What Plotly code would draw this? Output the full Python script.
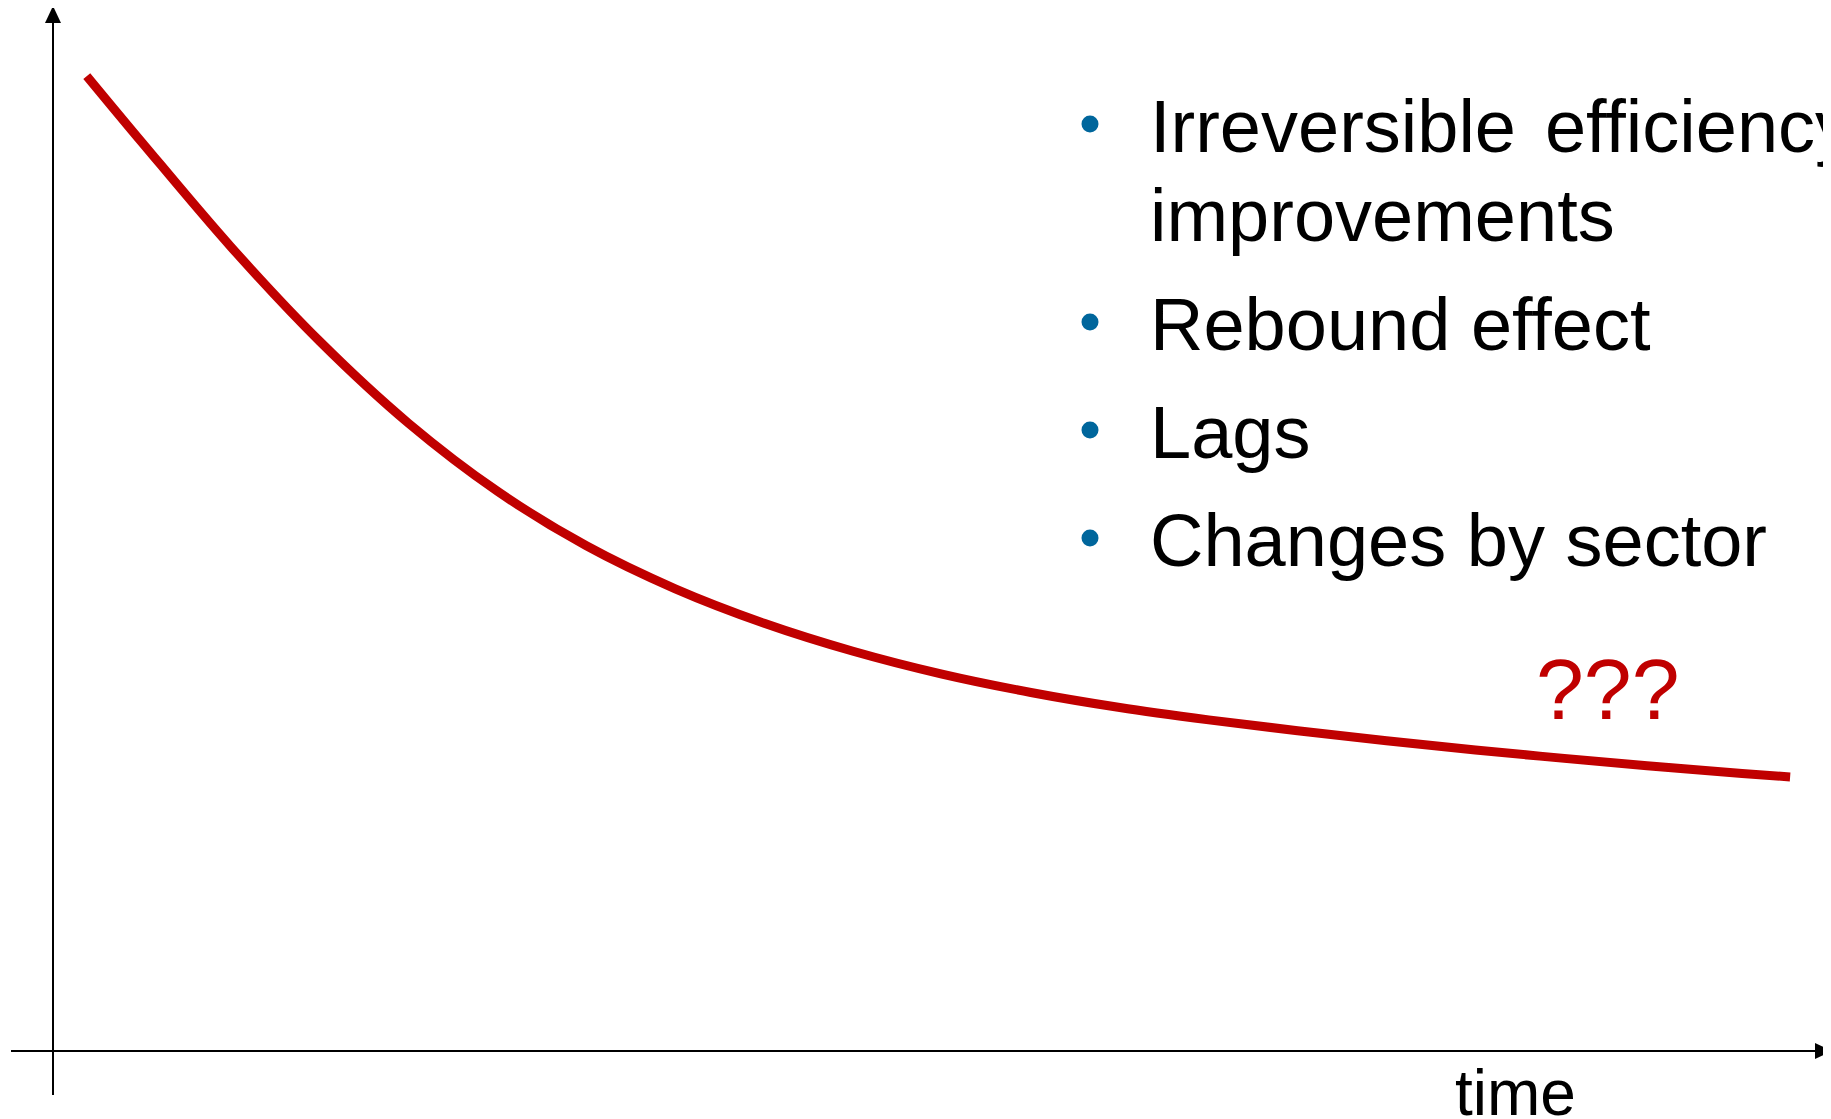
import plotly.graph_objects as go

# ---------------- data ----------------
time_vals = [1.9, 5, 10, 15, 20, 25, 30, 35, 40, 45, 50,
             55, 60, 65, 70, 75, 80, 85, 90, 95, 97.7]
energy_vals = [93.39, 87.04, 77.04, 67.98, 60.12, 53.61, 48.39, 44.27, 40.97, 38.29, 36.10,
               34.34, 32.90, 31.72, 30.67, 29.71, 28.83, 28.03, 27.28, 26.59, 26.25]

bullet_items = ["Irreversible <span style='font-size:30px'> </span>efficiency",
                "Rebound effect", "Lags", "Changes by sector"]
continuation = "improvements"
question_text = "???"
x_label = "time"

# ---------------- layout geometry ----------------
PAGE_OFF = 8                      # default body margin of the html page
W, H = 1831 - PAGE_OFF, 1119 - PAGE_OFF
ORIGIN_X, ORIGIN_Y = 53, 1051     # axis origin on screen
PX_PER_T = (1831 - ORIGIN_X) / 100.0
PX_PER_V = (ORIGIN_Y - 7) / 100.0

x_range = [(PAGE_OFF - ORIGIN_X) / PX_PER_T, (PAGE_OFF + W - ORIGIN_X) / PX_PER_T]
y_range = [(ORIGIN_Y - (PAGE_OFF + H)) / PX_PER_V, (ORIGIN_Y - PAGE_OFF) / PX_PER_V]

def px(x):
    return (x - PAGE_OFF) / W

def py(y):
    return 1 - (y - PAGE_OFF) / H

FONT = "Liberation Sans, Arial, Helvetica, sans-serif"
RED = "#C00000"
BLUE = "#00669C"

fig = go.Figure()
fig.add_trace(go.Scatter(
    x=time_vals, y=energy_vals, mode="lines",
    line=dict(color=RED, width=9, shape="spline", smoothing=1.0),
    hoverinfo="skip", showlegend=False,
))

shapes = []
# y axis with arrow
shapes.append(dict(type="line", xref="paper", yref="paper",
                   x0=px(ORIGIN_X), x1=px(ORIGIN_X), y0=py(1095), y1=py(20),
                   line=dict(color="black", width=2)))
shapes.append(dict(type="path", xref="paper", yref="paper",
                   path=f"M {px(ORIGIN_X)} {py(6)} L {px(ORIGIN_X-8)} {py(23)} L {px(ORIGIN_X+8)} {py(23)} Z",
                   fillcolor="black", line=dict(color="black", width=0)))
# x axis with arrow
shapes.append(dict(type="line", xref="paper", yref="paper",
                   x0=px(11), x1=px(1820), y0=py(ORIGIN_Y), y1=py(ORIGIN_Y),
                   line=dict(color="black", width=2)))
shapes.append(dict(type="path", xref="paper", yref="paper",
                   path=f"M {px(1832)} {py(ORIGIN_Y)} L {px(1815)} {py(ORIGIN_Y-8)} L {px(1815)} {py(ORIGIN_Y+8)} Z",
                   fillcolor="black", line=dict(color="black", width=0)))

annotations = []
FS = 74
TEXT_X = 1148
BULLET_X = 1090
R = 8.5
baselines = [152, 350, 458, 566]
for label, b in zip(bullet_items, baselines):
    annotations.append(dict(xref="paper", yref="paper", x=px(TEXT_X), y=py(b - 0.3465 * FS),
                            xanchor="left", yanchor="middle", text=label, showarrow=False,
                            font=dict(family=FONT, size=FS, color="black")))
    cy = b - 28
    shapes.append(dict(type="circle", xref="paper", yref="paper",
                       x0=px(BULLET_X - R), x1=px(BULLET_X + R),
                       y0=py(cy + R), y1=py(cy - R),
                       fillcolor=BLUE, line=dict(color=BLUE, width=0)))
annotations.append(dict(xref="paper", yref="paper", x=px(TEXT_X), y=py(241 - 0.3465 * FS),
                        xanchor="left", yanchor="middle", text=continuation, showarrow=False,
                        font=dict(family=FONT, size=FS, color="black")))

QFS = 86
annotations.append(dict(xref="paper", yref="paper", x=px(1608), y=py(719 - 0.3465 * QFS),
                        xanchor="center", yanchor="middle", text=question_text, showarrow=False,
                        font=dict(family=FONT, size=QFS, color=RED)))

TFS = 64
annotations.append(dict(xref="paper", yref="paper", x=px(1453), y=py(1115 - 0.3465 * TFS),
                        xanchor="left", yanchor="middle", text=x_label, showarrow=False,
                        font=dict(family=FONT, size=TFS, color="black")))

fig.update_layout(
    width=W, height=H,
    margin=dict(l=0, r=0, t=0, b=0),
    paper_bgcolor="white", plot_bgcolor="white",
    xaxis=dict(range=x_range, visible=False, fixedrange=True),
    yaxis=dict(range=y_range, visible=False, fixedrange=True),
    shapes=shapes, annotations=annotations,
    showlegend=False,
)

fig.write_html("out.html")
